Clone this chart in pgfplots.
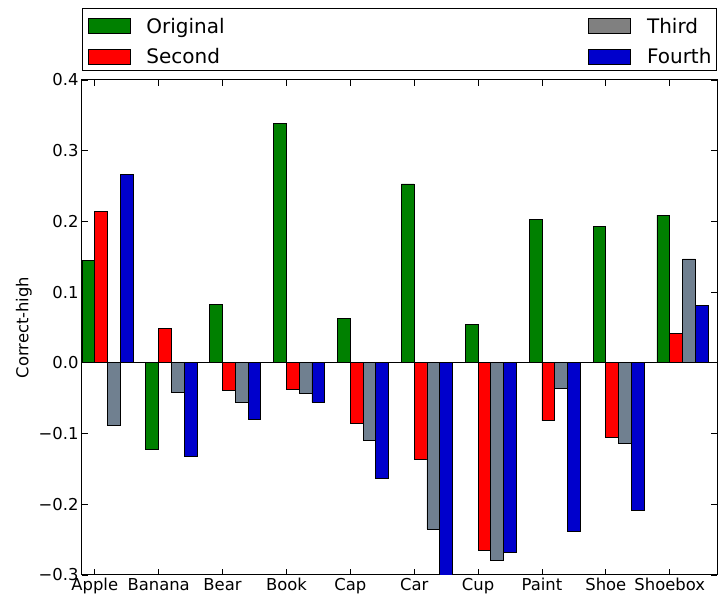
\documentclass[border=0pt]{standalone}
\usepackage{pgfplots}
\pgfplotsset{compat=1.18}
\usepackage{pgfplotstable}
\usepackage{fontspec}
\setmainfont{DejaVu Sans}
\definecolor{cgreen}{RGB}{0,128,0}
\definecolor{cred}{RGB}{255,0,0}
\definecolor{cslate}{RGB}{112,128,144}
\definecolor{cgray}{RGB}{128,128,128}
\definecolor{cblue}{RGB}{0,0,204}

\pgfplotstableread{
x orig second third fourth
0 0.145 0.214 -0.089 0.266
1 -0.122 0.049 -0.042 -0.132
2 0.082 -0.039 -0.056 -0.080
3 0.338 -0.037 -0.043 -0.056
4 0.063 -0.086 -0.109 -0.163
5 0.253 -0.137 -0.235 -0.320
6 0.054 -0.265 -0.279 -0.268
7 0.203 -0.082 -0.036 -0.239
8 0.193 -0.105 -0.114 -0.209
9 0.209 0.042 0.147 0.081
}\datatable

\begin{document}
\begin{tikzpicture}
\begin{axis}[
  scale only axis,
  width=635pt, height=495pt,
  xmin=0, xmax=9.94,
  ymin=-0.3, ymax=0.4,
  xtick={0.2,1.2,2.2,3.2,4.2,5.2,6.2,7.2,8.2,9.2},
  xticklabels={Apple,Banana,Bear,Book,Cap,Car,Cup,Paint,Shoe,Shoebox},
  ytick={-0.3,-0.2,-0.1,0,0.1,0.2,0.3,0.4},
  yticklabels={−0.3,−0.2,−0.1,0.0,0.1,0.2,0.3,0.4},
  extra y ticks={0},
  extra y tick labels={},
  extra y tick style={grid=major, major grid style={black, line width=0.8pt}},
  tick label style={font=\fontsize{16.4}{19}\selectfont},
  label style={font=\fontsize{16.4}{19}\selectfont},
  ylabel={Correct-high},
  major tick length=6pt,
  tick style={black, line width=0.8pt},
  axis line style={black, line width=1pt},
  legend columns=2,
  legend image code/.code={\path (0pt,11.5pt); \draw[#1,draw=black,line width=0.8pt] (0pt,-7.5pt) rectangle (42pt,7.5pt);},
  legend style={at={(0,1)}, anchor=south west, yshift=9pt, draw=black, line width=1pt, fill=white,
    inner xsep=5pt, inner ysep=6pt, row sep=10.4pt,
    font=\fontsize{20}{24}\selectfont, cells={anchor=west},
    nodes={inner sep=0pt, text height=14.6pt, text depth=0pt},
    /tikz/every odd column/.append style={column sep=16pt},
    /tikz/every even column/.append style={column sep=363.5pt}},
]
\addlegendimage{fill=cgreen}\addlegendentry{Original}
\addlegendimage{fill=cgray}\addlegendentry{Third}
\addlegendimage{fill=cred}\addlegendentry{Second}
\addlegendimage{fill=cblue}\addlegendentry{Fourth}
\addplot[ybar, bar width=0.2, bar shift=0.1, fill=cgreen, draw=black, line width=0.8pt, forget plot] table[x=x, y=orig] {\datatable};
\addplot[ybar, bar width=0.2, bar shift=0.3, fill=cred, draw=black, line width=0.8pt, forget plot] table[x=x, y=second] {\datatable};
\addplot[ybar, bar width=0.2, bar shift=0.5, fill=cslate, draw=black, line width=0.8pt, forget plot] table[x=x, y=third] {\datatable};
\addplot[ybar, bar width=0.2, bar shift=0.7, fill=cblue, draw=black, line width=0.8pt, forget plot] table[x=x, y=fourth] {\datatable};
\end{axis}
\pgfresetboundingbox
\path ([xshift=-82pt,yshift=-26pt]current axis.south west) rectangle ([xshift=1pt,yshift=80pt]current axis.north east);
\end{tikzpicture}
\end{document}
